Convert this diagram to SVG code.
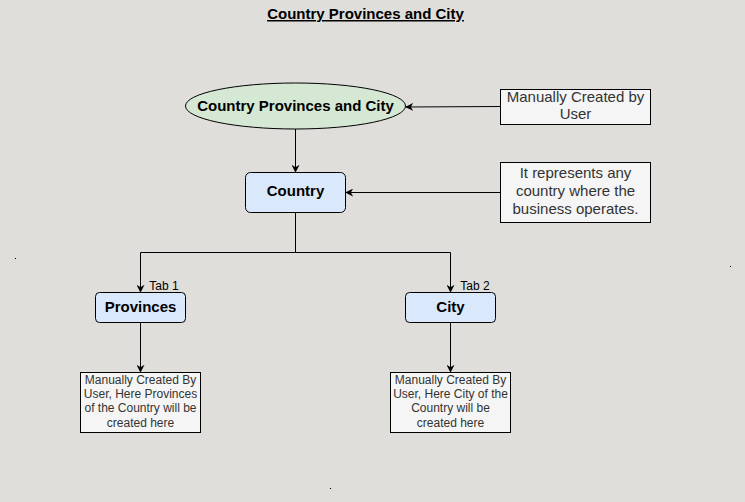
<svg xmlns="http://www.w3.org/2000/svg" width="745" height="502" viewBox="0 0 745 502">
<style>
text{font-family:"Liberation Sans",Arial,sans-serif}
.b{font-weight:bold;font-size:15px;fill:#000;text-anchor:middle}
.n{font-size:15px;fill:#333;text-anchor:middle}
.s{font-size:12px;fill:#333;text-anchor:middle}
.node{fill:#dae8fc;stroke:#000;stroke-width:1}
.note{fill:#f5f5f5;stroke:#000;stroke-width:1}
.e{fill:none;stroke:#000;stroke-width:1;marker-end:url(#arr)}
</style>
<defs>
<marker id="arr" viewBox="0 0 10 10" refX="9" refY="5" markerWidth="8" markerHeight="8" markerUnits="userSpaceOnUse" orient="auto">
<path d="M0,0 L10,5 L0,10 L3,5 Z" fill="#000"/>
</marker>
</defs>
<rect width="745" height="502" fill="#dfdedb"/>
<text x="365.5" y="19" class="b" text-decoration="underline">Country Provinces and City</text>
<g id="connectors">
<path class="e" d="M500,106.5 L406,107" stroke="#555"/>
<path class="e" d="M295.5,129 L295.5,172"/>
<path class="e" d="M500,192.5 L346,192.5"/>
<path class="e" d="M295.5,212 L295.5,252.5 L140.5,252.5 L140.5,292"/>
<path class="e" d="M295.5,252.5 L450.5,252.5 L450.5,292"/>
<path class="e" d="M140.5,322 L140.5,372"/>
<path class="e" d="M450.5,322 L450.5,372"/>
</g>
<g id="root">
<ellipse cx="295.5" cy="106" rx="110" ry="23" fill="#d5e8d4" stroke="#000"/>
<text x="295.5" y="111" class="b">Country Provinces and City</text>
</g>
<g id="note-root">
<rect class="note" x="500.5" y="89.5" width="150" height="35"/>
<text x="575.5" y="102" class="n">Manually Created by</text>
<text x="575.5" y="119" class="n">User</text>
</g>
<g id="country">
<rect class="node" x="245.5" y="172.5" width="100" height="40" rx="5"/>
<text x="295.5" y="196" class="b">Country</text>
</g>
<g id="note-country">
<rect class="note" x="500.5" y="162.5" width="150" height="60"/>
<text x="575.5" y="178" class="n">It represents any</text>
<text x="575.5" y="196" class="n">country where the</text>
<text x="575.5" y="214" class="n">business operates.</text>
</g>
<g id="provinces">
<rect class="node" x="95.5" y="292.5" width="90" height="30" rx="4"/>
<text x="140.5" y="312" class="b">Provinces</text>
<text x="164" y="290" font-size="12" fill="#000" text-anchor="middle">Tab 1</text>
</g>
<g id="city">
<rect class="node" x="405.5" y="292.5" width="90" height="30" rx="4"/>
<text x="450.5" y="312" class="b">City</text>
<text x="475" y="290" font-size="12" fill="#000" text-anchor="middle">Tab 2</text>
</g>
<g id="note-provinces">
<rect class="note" x="80.5" y="372.5" width="120" height="60"/>
<text x="140.5" y="384" class="s">Manually Created By</text>
<text x="140.5" y="398" class="s">User, Here Provinces</text>
<text x="140.5" y="412" class="s">of the Country will be</text>
<text x="140.5" y="427" class="s">created here</text>
</g>
<g id="note-city">
<rect class="note" x="390.5" y="372.5" width="120" height="60"/>
<text x="450.5" y="384" class="s">Manually Created By</text>
<text x="450.5" y="398" class="s">User, Here City of the</text>
<text x="450.5" y="412" class="s">Country will be</text>
<text x="450.5" y="427" class="s">created here</text>
</g>
<rect x="15" y="258" width="1" height="1" fill="#000"/>
<rect x="730" y="266" width="1" height="1" fill="#000"/>
<rect x="330" y="488" width="1" height="1" fill="#000"/>
</svg>
